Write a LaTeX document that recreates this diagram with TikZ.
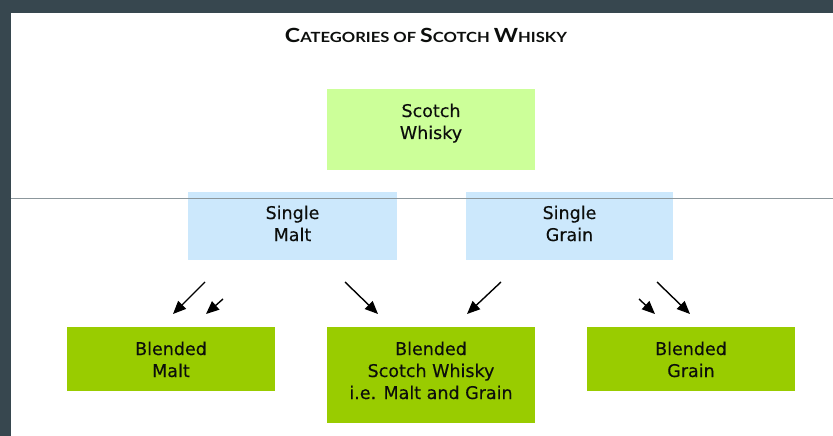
\documentclass[tikz,border=0pt]{standalone}
\usepackage{fontspec}
\setmainfont{DejaVu Sans}[BoldFont={DejaVu Sans}, BoldFeatures={FakeBold=0.35}]
\newfontfamily\titlefont{Lato}[UprightFont=* Bold]
\usetikzlibrary{arrows.meta}
\definecolor{frame}{RGB}{55,71,79}
\definecolor{topgreen}{RGB}{204,255,153}
\definecolor{paleblue}{RGB}{204,232,252}
\definecolor{leaf}{RGB}{153,204,0}
\definecolor{rule}{RGB}{140,151,156}
\definecolor{ink}{RGB}{12,14,12}
\tikzset{
  box/.style={draw=none, inner sep=0pt, outer sep=0pt},
  txt/.style={anchor=base, inner sep=0pt, text=ink, font=\fontsize{17.5}{22}\selectfont\bfseries},
  arr/.style={line width=1.4pt, draw=black, -{Triangle[length=13pt,width=11pt]}},
}
\newcommand{\lines}[1]{\setlength{\tabcolsep}{0pt}\begin{tabular}[t]{c}#1\end{tabular}}
\newcommand{\Lg}{\fontsize{19.5}{20}\selectfont}
\newcommand{\Sm}{\fontsize{14}{20}\selectfont}
\begin{document}
\begin{tikzpicture}[x=1pt,y=-1pt]
\useasboundingbox (0,0) rectangle (833,436);
\fill[frame] (0,0) rectangle (833,436);
\fill[white] (11,13) rectangle (833,436);
% title
\node[anchor=base, inner sep=0pt, text=ink] (title) at (426,43)
  {\resizebox{282pt}{\height}{\titlefont\Lg C\Sm ATEGORIES \Sm OF \Lg S\Sm COTCH \Lg W\Sm HISKY}};
% boxes
\path[fill=topgreen] (327,89) rectangle (535,170);
\node[box, minimum width=208pt, minimum height=81pt] (sw) at (431,129.5) {};
\node[box, fill=paleblue, minimum width=209pt, minimum height=68pt] (sm) at (292.5,226) {};
\node[box, fill=paleblue, minimum width=207pt, minimum height=68pt] (sg) at (569.5,226) {};
\node[box, fill=leaf, minimum width=208pt, minimum height=64pt] (bm) at (171,359) {};
\node[box, fill=leaf, minimum width=208pt, minimum height=96pt] (bs) at (431,375) {};
\node[box, fill=leaf, minimum width=208pt, minimum height=64pt] (bg) at (691,359) {};
% texts
\node[txt] (swt) at ([yshift=-28pt]sw.north) {\lines{Scotch\\Whisky}};
\node[txt] (smt) at ([yshift=-27pt]sm.north) {\lines{Single\\Malt}};
\node[txt] (sgt) at ([yshift=-27pt]sg.north) {\lines{Single\\Grain}};
\node[txt] (bmt) at ([yshift=-28pt]bm.north) {\lines{Blended\\Malt}};
\node[txt] (bst) at ([yshift=-28pt]bs.north) {\lines{Blended\\Scotch Whisky\\i.e. Malt and Grain}};
\node[txt] (bgt) at ([yshift=-28pt]bg.north) {\lines{Blended\\Grain}};
% rule line
\coordinate (rl) at (11,198);
\coordinate (rr) at (833,198);
\draw[rule, line width=1pt] (rl) -- (rr);
% arrows
\coordinate (a1s) at (205,282); \coordinate (a1e) at (173,314);
\coordinate (a2s) at (223,299); \coordinate (a2e) at (206,314);
\coordinate (a3s) at (345,282); \coordinate (a3e) at (378,314);
\coordinate (a4s) at (501,282); \coordinate (a4e) at (467,314);
\coordinate (a5s) at (639,299); \coordinate (a5e) at (655,314);
\coordinate (a6s) at (657,282); \coordinate (a6e) at (690,314);
\draw[arr] (a1s) -- (a1e);
\draw[arr] (a2s) -- (a2e);
\draw[arr] (a3s) -- (a3e);
\draw[arr] (a4s) -- (a4e);
\draw[arr] (a5s) -- (a5e);
\draw[arr] (a6s) -- (a6e);
\end{tikzpicture}
\end{document}
